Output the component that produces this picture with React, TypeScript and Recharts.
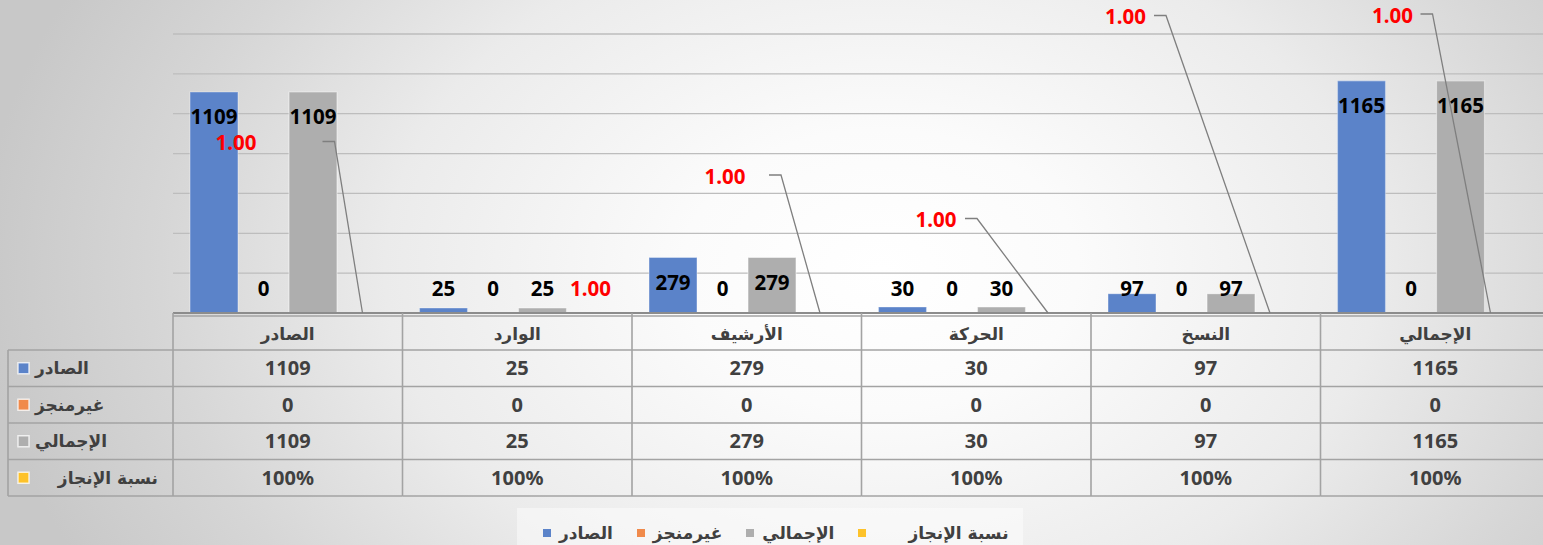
import React from 'react';
import { ComposedChart, Bar, XAxis, YAxis, CartesianGrid, LabelList } from 'recharts';

// ---------- data ----------
const categories = ['الصادر', 'الوارد', 'الأرشيف', 'الحركة', 'النسخ', 'الإجمالي'];
const issuedValues = [1109, 25, 279, 30, 97, 1165];
const pendingValues = [0, 0, 0, 0, 0, 0];
const totalValues = [1109, 25, 279, 30, 97, 1165];
const rateValues = [1, 1, 1, 1, 1, 1];
const rateTableLabels = ['100%', '100%', '100%', '100%', '100%', '100%'];
const yTicks = [0, 200, 400, 600, 800, 1000, 1200, 1400];
const seriesNames = ['الصادر', 'غيرمنجز', 'الإجمالي', 'نسبة الإنجاز'];
const seriesColors = ['#5B83C9', '#F08A4B', '#AEAEAE', '#FDC22A'];

const data = categories.map((name, i) => ({
  name,
  issued: issuedValues[i],
  pending: pendingValues[i],
  total: totalValues[i],
  rate: rateValues[i],
}));

// ---------- layout ----------
const CHART_W = 1560;
const CHART_H = 545;
const MARGIN = { top: 34, right: 10, left: 173, bottom: 50 };
const PLOT_W = CHART_W - MARGIN.left - MARGIN.right;
const BAND = PLOT_W / categories.length;
const HEADER_H = 37;
const ROW_H = 36.5;
const AXIS_H = 182;

// dragged label positions of the rate series (relative to the point), Excel-like leader lines
const RATE_LABEL_LAYOUT = [
  { dx: -126.5, dy: -170, lead: true, leadX: -40, endDx: 0 },
  { dx: -1.5, dy: -24.5, lead: false, leadX: 0, endDx: 0 },
  { dx: -96.5, dy: -136.5, lead: true, leadX: -52.5, endDx: -1.5 },
  { dx: -115, dy: -93, lead: true, leadX: -86, endDx: -3 },
  { dx: -155, dy: -296, lead: true, leadX: -126.5, endDx: -10.5 },
  { dx: -117.5, dy: -297.5, lead: true, leadX: -89.5, endDx: -19.5 },
];

const NUM_FONT = "'Noto Sans', 'DejaVu Sans', sans-serif";
const AR_FONT = "'DejaVu Sans', sans-serif";
const TABLE_LINE = '#A3A3A3';
const TEXT_DARK = '#404040';

const ValueLabel = (props: any) => {
  const { x, y, width, value } = props;
  const cy = Math.min(Number(y) + 25, 289);
  return (
    <text
      x={Number(x) + Number(width) / 2}
      y={cy}
      dy="0.36em"
      textAnchor="middle"
      fontFamily={NUM_FONT}
      fontWeight={700}
      fontSize={20.5}
      fill="#000"
    >
      {value}
    </text>
  );
};

const RateLabel = (props: any) => {
  const { x, y, width, height, value, index } = props;
  const cx = Number(x) + Number(width) / 2;
  const base = Number(y) + Number(height);
  const L = RATE_LABEL_LAYOUT[index] || RATE_LABEL_LAYOUT[0];
  const lx = cx + L.dx;
  const ly = base + L.dy;
  const leadY = ly - 1.5;
  const sx = cx + L.leadX;
  return (
    <g>
      {L.lead && (
        <polyline
          points={`${sx},${leadY} ${sx + 12},${leadY} ${cx + L.endDx},${base}`}
          fill="none"
          stroke="#7F7F7F"
          strokeWidth={1.3}
        />
      )}
      <text
        x={lx}
        y={ly}
        dy="0.36em"
        textAnchor="middle"
        fontFamily={NUM_FONT}
        fontWeight={700}
        fontSize={20.5}
        fill="#FF0000"
      >
        {Number(value).toFixed(2)}
      </text>
    </g>
  );
};

const TableTick = (props: any) => {
  const { x, y, payload } = props;
  const i = payload.index;
  const top = Number(y);
  const left = Number(x) - BAND / 2;
  const right = left + BAND;
  const cx = Number(x);
  const rows: (string | number)[] = [issuedValues[i], pendingValues[i], totalValues[i], rateTableLabels[i]];
  const bottom = top + HEADER_H + rows.length * ROW_H;
  const els: React.ReactNode[] = [];
  els.push(<line key="tl" x1={left} x2={right} y1={top + 3} y2={top + 3} stroke={TABLE_LINE} strokeWidth={1.5} />);
  els.push(<line key="vl" x1={left} x2={left} y1={top} y2={bottom} stroke={TABLE_LINE} strokeWidth={1.6} />);
  els.push(
    <text key="h" x={cx} y={top + HEADER_H / 2 + 2} dy="0.36em" textAnchor="middle" fontFamily={AR_FONT}
      fontWeight={700} fontSize={17} fill={TEXT_DARK}>
      {payload.value}
    </text>
  );
  rows.forEach((v, r) => {
    const ry = top + HEADER_H + r * ROW_H;
    els.push(<line key={`r${r}`} x1={left} x2={right} y1={ry} y2={ry} stroke={TABLE_LINE} strokeWidth={1.5} />);
    els.push(
      <text key={`t${r}`} x={cx} y={ry + ROW_H / 2} dy="0.36em" textAnchor="middle" fontFamily={NUM_FONT}
        fontWeight={700} fontSize={20} fill={TEXT_DARK}>
        {v}
      </text>
    );
  });
  els.push(<line key="bl" x1={left} x2={right} y1={bottom} y2={bottom} stroke={TABLE_LINE} strokeWidth={1.5} />);

  if (i === 0) {
    const colLeft = 8;
    els.push(<line key="lcv" x1={colLeft} x2={colLeft} y1={top + HEADER_H} y2={bottom} stroke={TABLE_LINE} strokeWidth={1.6} />);
    seriesNames.forEach((name, r) => {
      const ry = top + HEADER_H + r * ROW_H;
      const my = ry + ROW_H / 2;
      els.push(<line key={`lr${r}`} x1={colLeft} x2={left} y1={ry} y2={ry} stroke={TABLE_LINE} strokeWidth={1.5} />);
      els.push(
        <rect key={`lk${r}`} x={18} y={my - 5.5} width={11} height={11} fill={seriesColors[r]}
          stroke="rgba(255,255,255,0.75)" strokeWidth={1.5} />
      );
      const last = r === seriesNames.length - 1;
      els.push(
        <text key={`ln${r}`} x={last ? 158 : 35} y={my} dy="0.36em" textAnchor={last ? 'end' : 'start'}
          fontFamily={AR_FONT} fontWeight={700} fontSize={17} fill={TEXT_DARK}>
          {name}
        </text>
      );
    });
    els.push(<line key="lb" x1={colLeft} x2={left} y1={bottom} y2={bottom} stroke={TABLE_LINE} strokeWidth={1.5} />);
  }
  return <g>{els}</g>;
};

const legendOffsets = [0, 0, 0, 34];

export default function App() {
  return (
    <div
      style={{
        position: 'absolute',
        left: 0,
        top: 0,
        width: 1543,
        height: 545,
        overflow: 'hidden',
        background:
          'radial-gradient(ellipse 900px 640px at 880px 270px, #ffffff 0%, #fbfbfb 22%, #ebebeb 55%, #d6d6d6 80%, #c8c8c8 100%)',
      }}
    >
      <ComposedChart
        width={CHART_W}
        height={CHART_H}
        data={data}
        margin={MARGIN}
        barCategoryGap={17}
        barGap={1.5}
        style={{ overflow: 'visible' }}
      >
        <CartesianGrid vertical={false} stroke="#BDBDBD" strokeWidth={1.3} />
        <YAxis hide domain={[0, 1400]} ticks={yTicks} />
        <XAxis
          dataKey="name"
          height={AXIS_H}
          interval={0}
          tickLine={false}
          tickSize={0}
          tickMargin={0}
          axisLine={{ stroke: '#8C8C8C', strokeWidth: 2 }}
          tick={(p: any) => <TableTick {...p} />}
        />
        <Bar dataKey="issued" name={seriesNames[0]} fill={seriesColors[0]} stroke="rgba(255,255,255,0.35)" strokeWidth={1.2} minPointSize={0.3} isAnimationActive={false}>
          <LabelList dataKey="issued" content={ValueLabel} />
        </Bar>
        <Bar dataKey="pending" name={seriesNames[1]} fill={seriesColors[1]} minPointSize={0.3} isAnimationActive={false}>
          <LabelList dataKey="pending" content={ValueLabel} />
        </Bar>
        <Bar dataKey="total" name={seriesNames[2]} fill={seriesColors[2]} stroke="rgba(255,255,255,0.45)" strokeWidth={1.2} minPointSize={0.3} isAnimationActive={false}>
          <LabelList dataKey="total" content={ValueLabel} />
        </Bar>
        <Bar dataKey="rate" name={seriesNames[3]} fill={seriesColors[3]} minPointSize={0.3} isAnimationActive={false}>
          <LabelList dataKey="rate" content={RateLabel} />
        </Bar>
      </ComposedChart>

      <div
        style={{
          position: 'absolute',
          left: 517,
          top: 508,
          width: 506,
          height: 50,
          background: 'rgba(255,255,255,0.45)',
        }}
      >
        <div
          style={{
            position: 'absolute',
            left: 26,
            top: 14,
            height: 22,
            display: 'flex',
            alignItems: 'center',
            direction: 'ltr',
            whiteSpace: 'nowrap',
          }}
        >
          {seriesNames.map((n, i) => (
            <div key={n} style={{ display: 'flex', alignItems: 'center', marginRight: 24 }}>
              <span
                style={{
                  display: 'inline-block',
                  width: 8,
                  height: 8,
                  background: seriesColors[i],
                  marginRight: 8 + legendOffsets[i],
                }}
              />
              <span
                style={{
                  fontFamily: AR_FONT,
                  fontWeight: 700,
                  fontSize: 17,
                  color: TEXT_DARK,
                  lineHeight: '22px',
                }}
              >
                {n}
              </span>
            </div>
          ))}
        </div>
      </div>
    </div>
  );
}
